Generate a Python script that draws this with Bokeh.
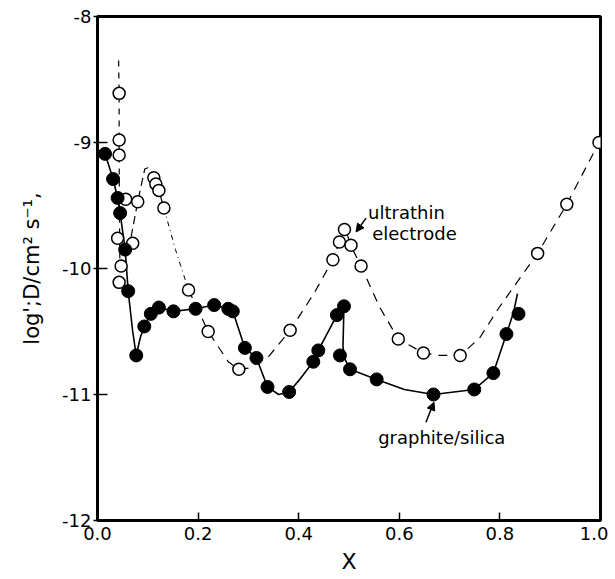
from bokeh.plotting import figure
from bokeh.models import FixedTicker, Label, Arrow, NormalHead, Title
from bokeh.embed import file_html
from bokeh.resources import INLINE

# graphite/silica (filled circles)
gs_x = [0.015, 0.031, 0.040, 0.045, 0.055, 0.061, 0.077, 0.093, 0.106, 0.122, 0.151, 0.195,
        0.232, 0.260, 0.269, 0.293, 0.316, 0.338, 0.381, 0.429, 0.439, 0.476, 0.490,
        0.482, 0.502, 0.555, 0.668, 0.749, 0.787, 0.813, 0.837]
gs_y = [-9.09, -9.29, -9.44, -9.56, -9.85, -10.18, -10.69, -10.46, -10.36, -10.31, -10.34, -10.32,
        -10.29, -10.32, -10.34, -10.63, -10.71, -10.94, -10.98, -10.74, -10.65, -10.37, -10.30,
        -10.69, -10.80, -10.88, -11.00, -10.96, -10.83, -10.52, -10.36]

# ultrathin electrode (open circles)
ut_x = [0.043, 0.043, 0.043, 0.056, 0.080, 0.112, 0.116, 0.122, 0.132, 0.040, 0.070, 0.047, 0.043,
        0.181, 0.220, 0.281, 0.383, 0.468, 0.481, 0.491, 0.504, 0.524, 0.598, 0.648, 0.721,
        0.875, 0.933, 0.997]
ut_y = [-8.61, -8.98, -9.10, -9.45, -9.47, -9.28, -9.33, -9.38, -9.52, -9.76, -9.80, -9.98, -10.11,
        -10.17, -10.50, -10.80, -10.49, -9.93, -9.79, -9.69, -9.815, -9.98, -10.56, -10.67, -10.69,
        -9.88, -9.49, -9.00]

# curves drawn through the data
gs_c1_x = [0.015, 0.031, 0.040, 0.045, 0.055, 0.061, 0.070, 0.077, 0.085, 0.093, 0.106, 0.122,
           0.151, 0.195, 0.232, 0.260, 0.269, 0.293, 0.316, 0.338, 0.360, 0.381, 0.400, 0.429,
           0.439, 0.476, 0.490]
gs_c1_y = [-9.09, -9.29, -9.44, -9.56, -9.85, -10.18, -10.50, -10.69, -10.55, -10.46, -10.36, -10.31,
           -10.34, -10.32, -10.29, -10.32, -10.34, -10.63, -10.71, -10.94, -11.00, -10.98, -10.89, -10.74,
           -10.65, -10.37, -10.30]
gs_c2_x = [0.490, 0.488, 0.492, 0.502, 0.555, 0.610, 0.668, 0.749, 0.787, 0.813, 0.827, 0.835]
gs_c2_y = [-10.30, -10.62, -10.72, -10.80, -10.88, -10.96, -11.00, -10.96, -10.83, -10.52, -10.35, -10.20]

ut_c1_x = [0.042, 0.043, 0.043, 0.043, 0.044, 0.045]
ut_c1_y = [-8.35, -8.61, -8.98, -9.10, -9.76, -10.11]
ut_c2_x = [0.062, 0.080, 0.094, 0.100, 0.112, 0.116, 0.122, 0.132]
ut_c2_y = [-9.85, -9.47, -9.21, -9.20, -9.28, -9.33, -9.38, -9.52]
ut_c3_x = [0.132, 0.155, 0.181]
ut_c3_y = [-9.52, -9.85, -10.17]
ut_c4_x = [0.181, 0.220, 0.260, 0.281, 0.300, 0.340, 0.383, 0.430, 0.468, 0.481, 0.492, 0.503,
           0.524, 0.560, 0.598, 0.648, 0.680, 0.721, 0.760, 0.800, 0.875, 0.933, 0.997, 1.000]
ut_c4_y = [-10.17, -10.50, -10.74, -10.80, -10.79, -10.70, -10.49, -10.20, -9.93, -9.79, -9.67, -9.815,
           -9.98, -10.30, -10.56, -10.67, -10.69, -10.69, -10.55, -10.30, -9.88, -9.49, -9.00, -8.96]

x_ticks = [0.0, 0.2, 0.4, 0.6, 0.8, 1.0]
x_tick_labels = ["0.0", "0.2", "0.4", "0.6", "0.8", "1.0"]
y_ticks = [-12, -11, -10, -9, -8]
y_tick_labels = ["-12", "-11", "-10", "-9", "-8"]
y_title = "log';D/cm² s⁻¹,"

FONT = "DejaVu Sans"

p = figure(width=608, height=576, x_range=(0.0, 1.0), y_range=(-12, -8),
           output_backend="svg", toolbar_location=None,
           min_border_left=97, min_border_right=8, min_border_top=16, min_border_bottom=55)
p.grid.visible = False
p.background_fill_color = "white"
p.border_fill_color = "white"
p.outline_line_color = "black"
p.outline_line_width = 3

p.xaxis.ticker = FixedTicker(ticks=x_ticks)
p.xaxis.major_label_overrides = {t: l for t, l in zip(x_ticks, x_tick_labels)}
p.yaxis.ticker = FixedTicker(ticks=y_ticks)
p.yaxis.major_label_overrides = {t: l for t, l in zip(y_ticks, y_tick_labels)}

for ax in (p.xaxis, p.yaxis):
    ax.axis_line_width = 3
    ax.axis_line_color = "black"
    ax.major_tick_line_color = "black"
    ax.major_tick_line_width = 1.5
    ax.minor_tick_line_color = None
    ax.major_label_text_font = FONT
    ax.major_label_text_font_size = "18px"
    ax.major_label_text_color = "black"
    ax.axis_label_text_font = FONT
    ax.axis_label_text_font_style = "normal"
    ax.axis_label_text_color = "black"

p.xaxis.major_tick_in = 8
p.xaxis.major_tick_out = 0
p.xaxis.major_label_standoff = 6
p.xaxis.axis_label = "X"
p.xaxis.axis_label_text_font_size = "22px"
p.xaxis.axis_label_standoff = 6

p.yaxis.major_tick_in = 10
p.yaxis.major_tick_out = 4
p.yaxis.major_label_standoff = 2

# y-axis title as a side title on the left
p.add_layout(Title(text=y_title, align="center", text_font=FONT, text_font_size="21px",
                   text_font_style="normal", text_color="black", standoff=32), "left")

# lines
p.line(gs_c1_x, gs_c1_y, line_color="black", line_width=1.6)
p.line(gs_c2_x, gs_c2_y, line_color="black", line_width=1.6)
p.line(ut_c1_x, ut_c1_y, line_color="black", line_width=1.2, line_dash="6 6")
p.line(ut_c2_x, ut_c2_y, line_color="black", line_width=1.2, line_dash="8 5")
p.line(ut_c3_x, ut_c3_y, line_color="black", line_width=1.0, line_dash="5 4 1 4")
p.line(ut_c4_x, ut_c4_y, line_color="black", line_width=1.2, line_dash="9 7")

# markers
p.scatter(ut_x, ut_y, size=12, marker="circle", fill_color="white", line_color="black", line_width=1.5)
p.scatter(gs_x, gs_y, size=13, marker="circle", fill_color="black", line_color="black")

# annotations
p.add_layout(Label(x=0.538, y=-9.553, text="ultrathin", text_font=FONT, text_font_size="18px",
                   text_baseline="middle", text_color="black"))
p.add_layout(Label(x=0.546, y=-9.72, text="electrode", text_font=FONT, text_font_size="18px",
                   text_baseline="middle", text_color="black"))
p.add_layout(Label(x=0.558, y=-11.343, text="graphite/silica", text_font=FONT, text_font_size="18px",
                   text_baseline="middle", text_color="black"))
p.add_layout(Arrow(x_start=0.534, y_start=-9.60, x_end=0.514, y_end=-9.71, line_width=1.5,
                   end=NormalHead(size=8, fill_color="black", line_color="black")))
p.add_layout(Arrow(x_start=0.653, y_start=-11.22, x_end=0.669, y_end=-11.06, line_width=1.5,
                   end=NormalHead(size=8, fill_color="black", line_color="black")))

open("out.html", "w").write(file_html(p, INLINE))
